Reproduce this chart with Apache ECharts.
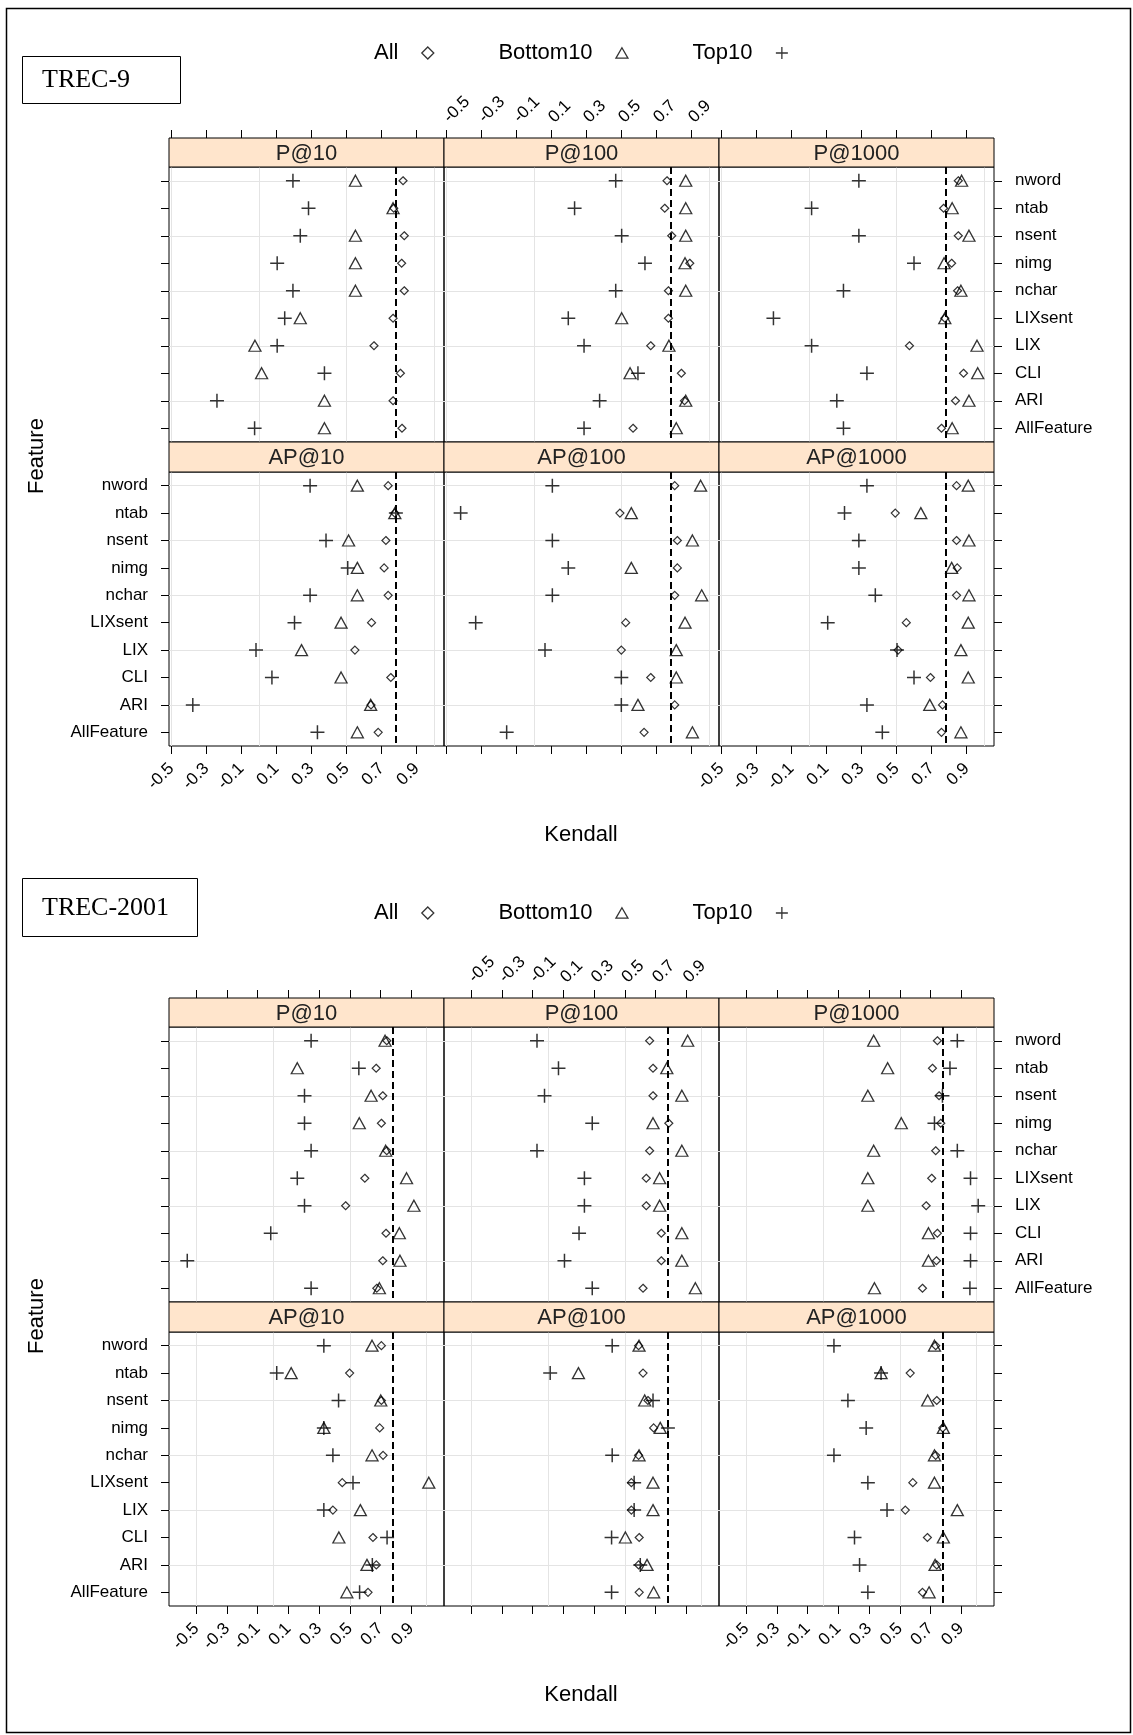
<!DOCTYPE html>
<html>
<head>
<meta charset="utf-8">
<title>Kendall dotplot</title>
<script src="https://cdn.jsdelivr.net/npm/echarts@6.0.0/dist/echarts.min.js"></script>
<style>
  html, body { margin: 0; padding: 0; background: #fff; }
  #main { width: 1133px; height: 1735px; }
</style>
</head>
<body>
<div id="main"></div>
<script>
const features = ['nword', 'ntab', 'nsent', 'nimg', 'nchar', 'LIXsent', 'LIX', 'CLI', 'ARI', 'AllFeature'];
const panelNames = ['P@10', 'P@100', 'P@1000', 'AP@10', 'AP@100', 'AP@1000'];
const seriesNames = ['All', 'Bottom10', 'Top10'];
const tickValues = [-0.5, -0.3, -0.1, 0.1, 0.3, 0.5, 0.7, 0.9];
const refValue = 0.78;

// TREC-9
const t9_P10_all = [0.823, 0.770, 0.830, 0.815, 0.830, 0.766, 0.657, 0.808, 0.766, 0.817];
const t9_P10_bot = [0.551, 0.766, 0.551, 0.551, 0.551, 0.236, -0.023, 0.015, 0.374, 0.374];
const t9_P10_top = [0.194, 0.283, 0.236, 0.104, 0.194, 0.147, 0.104, 0.374, -0.240, -0.025];
const t9_P100_all = [0.760, 0.747, 0.787, 0.890, 0.768, 0.768, 0.667, 0.842, 0.860, 0.566];
const t9_P100_bot = [0.867, 0.867, 0.867, 0.863, 0.867, 0.501, 0.771, 0.549, 0.867, 0.813];
const t9_P100_top = [0.467, 0.232, 0.501, 0.634, 0.467, 0.196, 0.286, 0.594, 0.375, 0.286];
const t9_P1000_all = [0.853, 0.769, 0.853, 0.815, 0.849, 0.776, 0.574, 0.883, 0.837, 0.757];
const t9_P1000_bot = [0.872, 0.818, 0.914, 0.772, 0.868, 0.776, 0.960, 0.964, 0.914, 0.818];
const t9_P1000_top = [0.285, 0.015, 0.285, 0.600, 0.197, -0.203, 0.015, 0.331, 0.159, 0.197];
const t9_AP10_all = [0.738, 0.776, 0.725, 0.715, 0.738, 0.643, 0.548, 0.753, 0.640, 0.681];
const t9_AP10_bot = [0.562, 0.776, 0.512, 0.562, 0.562, 0.469, 0.243, 0.469, 0.638, 0.562];
const t9_AP10_top = [0.292, 0.782, 0.383, 0.507, 0.292, 0.203, -0.017, 0.074, -0.378, 0.334];
const t9_AP100_all = [0.804, 0.491, 0.819, 0.819, 0.804, 0.524, 0.499, 0.667, 0.804, 0.629];
const t9_AP100_bot = [0.952, 0.556, 0.905, 0.556, 0.958, 0.863, 0.813, 0.813, 0.594, 0.905];
const t9_AP100_top = [0.105, -0.419, 0.105, 0.196, 0.105, -0.333, 0.063, 0.499, 0.499, -0.156];
const t9_AP1000_all = [0.843, 0.493, 0.843, 0.847, 0.843, 0.556, 0.509, 0.694, 0.763, 0.757];
const t9_AP1000_bot = [0.910, 0.639, 0.914, 0.815, 0.914, 0.910, 0.868, 0.910, 0.690, 0.868];
const t9_AP1000_top = [0.331, 0.203, 0.285, 0.285, 0.379, 0.107, 0.503, 0.600, 0.331, 0.419];

// TREC-2001
const t01_P10_all = [0.741, 0.672, 0.715, 0.706, 0.741, 0.598, 0.473, 0.736, 0.715, 0.676];
const t01_P10_bot = [0.730, 0.158, 0.639, 0.562, 0.734, 0.870, 0.918, 0.823, 0.827, 0.693];
const t01_P10_top = [0.248, 0.559, 0.205, 0.205, 0.248, 0.158, 0.205, -0.015, -0.559, 0.248];
const t01_P100_all = [0.662, 0.684, 0.684, 0.787, 0.662, 0.640, 0.640, 0.738, 0.738, 0.619];
const t01_P100_bot = [0.910, 0.774, 0.872, 0.684, 0.872, 0.727, 0.727, 0.872, 0.872, 0.960];
const t01_P100_top = [-0.072, 0.068, -0.023, 0.288, -0.072, 0.237, 0.237, 0.202, 0.107, 0.288];
const t01_P1000_all = [0.745, 0.713, 0.756, 0.767, 0.734, 0.708, 0.672, 0.745, 0.739, 0.648];
const t01_P1000_bot = [0.330, 0.421, 0.292, 0.510, 0.330, 0.292, 0.292, 0.687, 0.687, 0.335];
const t01_P1000_top = [0.875, 0.827, 0.778, 0.726, 0.875, 0.961, 1.011, 0.961, 0.961, 0.957];
const t01_AP10_all = [0.706, 0.499, 0.706, 0.695, 0.717, 0.451, 0.390, 0.651, 0.673, 0.619];
const t01_AP10_bot = [0.645, 0.118, 0.702, 0.331, 0.645, 1.015, 0.569, 0.429, 0.612, 0.481];
const t01_AP10_top = [0.331, 0.024, 0.427, 0.331, 0.390, 0.521, 0.331, 0.743, 0.647, 0.564];
const t01_AP100_all = [0.590, 0.619, 0.651, 0.688, 0.590, 0.543, 0.543, 0.594, 0.590, 0.594];
const t01_AP100_bot = [0.593, 0.198, 0.630, 0.731, 0.593, 0.684, 0.684, 0.504, 0.645, 0.688];
const t01_AP100_top = [0.418, 0.014, 0.684, 0.781, 0.418, 0.561, 0.561, 0.414, 0.601, 0.414];
const t01_AP1000_all = [0.734, 0.568, 0.741, 0.780, 0.734, 0.585, 0.536, 0.680, 0.741, 0.648];
const t01_AP1000_bot = [0.726, 0.378, 0.682, 0.784, 0.726, 0.726, 0.875, 0.784, 0.730, 0.691];
const t01_AP1000_top = [0.071, 0.378, 0.162, 0.281, 0.071, 0.292, 0.417, 0.205, 0.238, 0.292];

const SANS = '"Liberation Sans", Arial, sans-serif';
const SERIF = '"Liberation Serif", "Times New Roman", serif';
const SYM_DIAMOND = 'path://M5,0L10,5L5,10L0,5Z';
const SYM_TRIANGLE = 'path://M6,0L12,10.4L0,10.4Z';
const SYM_PLUS = 'path://M6,0V12M0,6H12';
const symbols = [SYM_DIAMOND, SYM_TRIANGLE, SYM_PLUS];
const symbolSizes = [8, [12, 11], 14];
const strokeWidths = [1.2, 1.3, 1.5];

const colLeft = [169, 444, 719];
const panelW = 275;
const rowTop = [167, 472];
const rowH = [275, 274];
const stripH = [29, 30];

const blocks = [
  {
    label: 'TREC-9', dy: 0, xMin: -0.514, xMax: 1.057,
    vGrid: [-0.5, 0, 0.5, 1],
    box: [22, 56, 158, 47],
    panels: [
      [t9_P10_all, t9_P10_bot, t9_P10_top],
      [t9_P100_all, t9_P100_bot, t9_P100_top],
      [t9_P1000_all, t9_P1000_bot, t9_P1000_top],
      [t9_AP10_all, t9_AP10_bot, t9_AP10_top],
      [t9_AP100_all, t9_AP100_bot, t9_AP100_top],
      [t9_AP1000_all, t9_AP1000_bot, t9_AP1000_top]
    ]
  },
  {
    label: 'TREC-2001', dy: 860, xMin: -0.678, xMax: 1.114,
    vGrid: [-0.5, 0, 0.5, 1],
    box: [22, 878, 175, 58],
    panels: [
      [t01_P10_all, t01_P10_bot, t01_P10_top],
      [t01_P100_all, t01_P100_bot, t01_P100_top],
      [t01_P1000_all, t01_P1000_bot, t01_P1000_top],
      [t01_AP10_all, t01_AP10_bot, t01_AP10_top],
      [t01_AP100_all, t01_AP100_bot, t01_AP100_top],
      [t01_AP1000_all, t01_AP1000_bot, t01_AP1000_top]
    ]
  }
];

const grid = [], xAxis = [], yAxis = [], series = [], graphic = [], legend = [];

graphic.push({
  type: 'rect', z: 0,
  shape: { x: 6.5, y: 8.5, width: 1124, height: 1724 },
  style: { fill: 'none', stroke: '#000', lineWidth: 1.5 }
});

blocks.forEach(b => {
  const hLines = features.filter((f, i) => i % 2 === 0);
  b.panels.forEach((arrs, p) => {
    const row = Math.floor(p / 3), col = p % 3;
    const k = grid.length;
    const top = rowTop[row] + b.dy;
    grid.push({
      left: colLeft[col], top: top, width: panelW, height: rowH[row],
      show: true, borderColor: '#000', borderWidth: 1, backgroundColor: 'transparent'
    });
    const showXLabel = row === 0 ? col === 1 : col !== 1;
    xAxis.push({
      gridIndex: k, type: 'value', min: b.xMin, max: b.xMax,
      position: row === 0 ? 'top' : 'bottom',
      offset: row === 0 ? stripH[0] : 0,
      axisLine: { show: false, onZero: false },
      axisTick: { show: true, inside: false, length: 8, customValues: tickValues, lineStyle: { color: '#000', width: 1 } },
      axisLabel: {
        show: showXLabel, customValues: tickValues,
        rotate: row === 0 ? -45 : 45, margin: row === 0 ? 18 : 20,
        fontSize: 17, fontFamily: SANS, color: '#000'
      },
      splitLine: { show: false }
    });
    const showYTick = col !== 1;
    const showYLabel = (col === 0 && row === 1) || (col === 2 && row === 0);
    yAxis.push({
      gridIndex: k, type: 'category', data: features, inverse: true,
      position: col === 2 ? 'right' : 'left',
      axisLine: { show: false, onZero: false },
      axisTick: { show: showYTick, alignWithLabel: true, length: 8, lineStyle: { color: '#000', width: 1 } },
      axisLabel: { show: showYLabel, interval: 0, margin: 21, fontSize: 17, fontFamily: SANS, color: '#000' },
      splitLine: { show: false }
    });
    // reference grid and dashed line, kept under the points
    series.push({
      type: 'scatter', xAxisIndex: k, yAxisIndex: k, data: [], silent: true, z: 1,
      markLine: {
        z: 1, silent: true, animation: false, symbol: ['none', 'none'],
        label: { show: false },
        lineStyle: { color: '#e4e4e4', width: 1, type: 'solid' },
        data: b.vGrid.map(v => ({ xAxis: v }))
          .concat(hLines.map(f => ({ yAxis: f })))
          .concat([{ xAxis: refValue, lineStyle: { color: '#000', width: 2, type: [7, 4] } }])
      }
    });
    arrs.forEach((arr, s) => {
      series.push({
        type: 'scatter', name: seriesNames[s], xAxisIndex: k, yAxisIndex: k,
        symbol: symbols[s], symbolSize: symbolSizes[s], z: 3,
        itemStyle: { color: 'transparent', borderColor: '#000', borderWidth: strokeWidths[s] },
        emphasis: { disabled: true },
        data: features.map((f, i) => [arr[i], f])
      });
    });
    // strip
    const sTop = top - stripH[row];
    graphic.push({
      type: 'rect', z: 5,
      shape: { x: colLeft[col], y: sTop, width: panelW, height: stripH[row] },
      style: { fill: '#ffe5cc', stroke: '#000', lineWidth: 1 }
    });
    graphic.push({
      type: 'text', z: 6, x: colLeft[col] + panelW / 2, y: sTop + stripH[row] / 2 + 1,
      style: {
        text: panelNames[p], fill: '#222', font: '22px ' + SANS,
        align: 'center', verticalAlign: 'middle', textAlign: 'center', textVerticalAlign: 'middle'
      }
    });
  });

  // label box
  graphic.push({
    type: 'rect', z: 5,
    shape: { x: b.box[0] + 0.5, y: b.box[1] + 0.5, width: b.box[2], height: b.box[3] },
    style: { fill: '#fff', stroke: '#000', lineWidth: 1 }
  });
  graphic.push({
    type: 'text', z: 6, x: b.box[0] + 20, y: b.box[1] + b.box[3] / 2 + 1,
    style: {
      text: b.label, fill: '#000', font: '26px ' + SERIF,
      align: 'left', verticalAlign: 'middle', textAlign: 'left', textVerticalAlign: 'middle'
    }
  });
  // axis titles
  graphic.push({
    type: 'text', z: 6, x: 581, y: 835 + b.dy,
    style: {
      text: 'Kendall', fill: '#000', font: '22px ' + SANS,
      align: 'center', verticalAlign: 'middle', textAlign: 'center', textVerticalAlign: 'middle'
    }
  });
  graphic.push({
    type: 'text', z: 6, x: 37, y: 456 + b.dy, rotation: Math.PI / 2,
    style: {
      text: 'Feature', fill: '#000', font: '22px ' + SANS,
      align: 'center', verticalAlign: 'middle', textAlign: 'center', textVerticalAlign: 'middle'
    }
  });
  legend.push({
    top: 37 + b.dy, left: 369, orient: 'horizontal', align: 'right',
    itemWidth: 12, itemHeight: 12, itemGap: 64, selectedMode: false,
    data: seriesNames,
    formatter: n => n + '   ',
    itemStyle: { borderWidth: 1.3, borderColor: '#000', color: 'transparent' },
    textStyle: { fontSize: 22, fontFamily: SANS, color: '#000' }
  });
});

const chart = echarts.init(document.getElementById('main'));
chart.setOption({
  animation: false,
  backgroundColor: '#fff',
  grid, xAxis, yAxis, series, graphic, legend
});
</script>
</body>
</html>
